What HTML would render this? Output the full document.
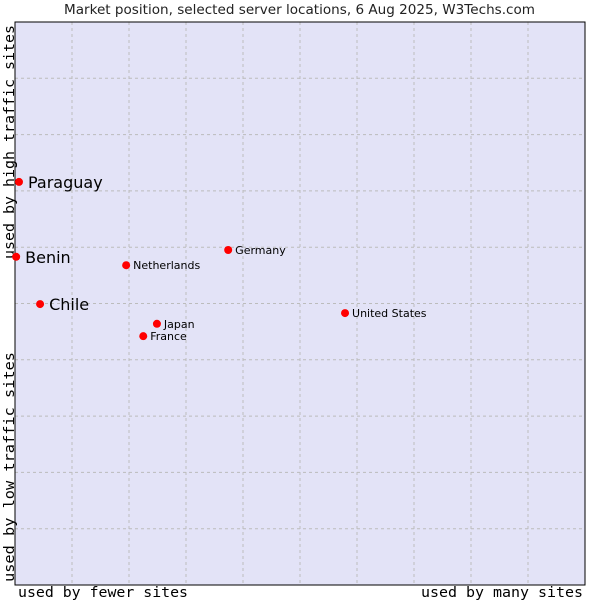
<!DOCTYPE html>
<html><head><meta charset="utf-8"><style>
body{margin:0;background:#fff;}
svg text{font-family:"DejaVu Sans","Liberation Sans",sans-serif;}
</style></head><body>
<svg id="c" width="600" height="600" xmlns="http://www.w3.org/2000/svg">
<text x="64" y="14" font-size="13" textLength="471" lengthAdjust="spacingAndGlyphs" fill="#222">Market position, selected server locations, 6 Aug 2025, W3Techs.com</text>
<rect x="15" y="22" width="570" height="563" fill="#e3e3f7" stroke="none"/>
<g id="grid"></g>
<rect x="15" y="22" width="570" height="563" fill="none" stroke="#000" stroke-width="1"/>
<text x="18" y="597" font-size="14" textLength="170" lengthAdjust="spacingAndGlyphs" fill="#000" style="font-family:'DejaVu Sans Mono','Liberation Mono',monospace">used by fewer sites</text>
<text x="421" y="597" font-size="14" textLength="162" lengthAdjust="spacingAndGlyphs" fill="#000" style="font-family:'DejaVu Sans Mono','Liberation Mono',monospace">used by many sites</text>
<text transform="translate(14,582) rotate(-90)" font-size="14" textLength="230" lengthAdjust="spacingAndGlyphs" fill="#000" style="font-family:'DejaVu Sans Mono','Liberation Mono',monospace">used by low traffic sites</text>
<text transform="translate(14,259) rotate(-90)" font-size="14" textLength="234" lengthAdjust="spacingAndGlyphs" fill="#000" style="font-family:'DejaVu Sans Mono','Liberation Mono',monospace">used by high traffic sites</text>
<g id="pts"></g>
</svg>
<script>
const names=["Paraguay","Benin","Chile","Netherlands","Germany","Japan","France","United States"];
const xs=[0.7,0.2,4.4,19.5,37.4,24.9,22.5,57.9];
const ys=[71.6,58.3,49.9,56.8,59.5,46.4,44.2,48.3];
const big=[true,true,true,false,false,false,false,false];
const NS="http://www.w3.org/2000/svg";
const X=v=>15+v*5.7, Y=v=>585-v*5.63;
const g=document.getElementById('grid');
for(let i=1;i<10;i++){
 const v=document.createElementNS(NS,'line');
 
 
 const xv=X(i*10);v.setAttribute('x1',xv);v.setAttribute('x2',xv);v.setAttribute('y1',22);v.setAttribute('y2',585);
 v.setAttribute('stroke','#bcbcbc');v.setAttribute('stroke-dasharray','3,3');g.appendChild(v);
 const h=document.createElementNS(NS,'line');
 
 
 const yv=Y(i*10);h.setAttribute('y1',yv);h.setAttribute('y2',yv);h.setAttribute('x1',15);h.setAttribute('x2',585);
 h.setAttribute('stroke','#bcbcbc');h.setAttribute('stroke-dasharray','3,3');g.appendChild(h);
}
const p=document.getElementById('pts');
names.forEach((n,i)=>{
 const cx=X(xs[i]),cy=Y(ys[i]);
 const d=document.createElementNS(NS,'circle');
 
 
 d.setAttribute('cx',cx);d.setAttribute('cy',cy);d.setAttribute('r',4);
 d.setAttribute('fill','#f00');p.appendChild(d);
 const t=document.createElementNS(NS,'text');
 
 
 t.setAttribute('x',cx+(big[i]?9:7));t.setAttribute('y',cy+(big[i]?6:4));
 t.setAttribute('font-size',big[i]?16:11);t.setAttribute('fill','#000');
 t.textContent=n;p.appendChild(t);
});
</script>
</body></html>
